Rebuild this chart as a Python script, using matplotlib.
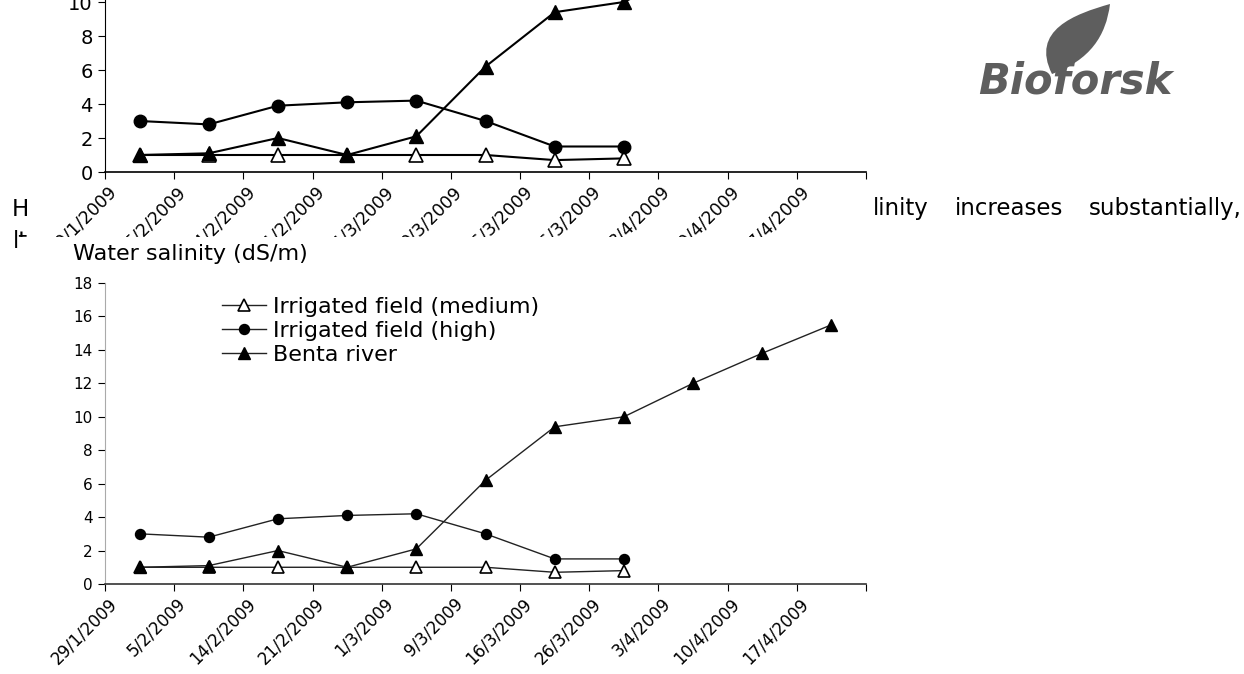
import numpy as np
import matplotlib
matplotlib.use('Agg')
import matplotlib.pyplot as plt
import matplotlib.transforms as mtransforms
from matplotlib.patches import Rectangle, PathPatch
from matplotlib.path import Path

dates = ['29/1/2009', '5/2/2009', '14/2/2009', '21/2/2009', '1/3/2009', '9/3/2009',
         '16/3/2009', '26/3/2009', '3/4/2009', '10/4/2009', '17/4/2009']
medium = [1.0, 1.0, 1.0, 1.0, 1.0, 1.0, 0.7, 0.8]
high = [3.0, 2.8, 3.9, 4.1, 4.2, 3.0, 1.5, 1.5]
benta = [1.0, 1.1, 2.0, 1.0, 2.1, 6.2, 9.4, 10.0, 12.0, 13.8, 15.5]
labels = ['Irrigated field (medium)', 'Irrigated field (high)', 'Benta river']

W, H = 1244, 674
fig = plt.figure(figsize=(12.44, 6.74), dpi=100)


def px_axes(left, right, y0, ytop):
    # y0 = pixel row of value 0, ytop = pixel row of ymax
    return fig.add_axes([left / W, (H - y0) / H, (right - left) / W, (y0 - ytop) / H])


def draw(ax, ms, lw, lc, tick_fs, date_fs, spine_col, ymax_tick):
    x_med = np.arange(len(medium)) + 0.5
    x_high = np.arange(len(high)) + 0.5
    x_ben = np.arange(len(benta)) + 0.5
    l1, = ax.plot(x_med, medium, color=lc, lw=lw, marker='^', ms=ms,
                  mfc='white', mec='black', mew=1.2, label=labels[0])
    l2, = ax.plot(x_high, high, color=lc, lw=lw, marker='o', ms=ms * 0.9,
                  mfc='black', mec='black', label=labels[1])
    l3, = ax.plot(x_ben, benta, color=lc, lw=lw, marker='^', ms=ms,
                  mfc='black', mec='black', label=labels[2])
    ax.set_xlim(0, 11)
    ax.set_ylim(0, 18)
    ax.set_yticks(range(0, ymax_tick + 1, 2))
    ax.set_xticks(range(12))
    ax.set_xticklabels(dates + [''], rotation=45, ha='right', va='center',
                       rotation_mode='anchor', fontsize=date_fs)
    ax.tick_params(axis='y', labelsize=tick_fs, length=5, direction='out', pad=4)
    ax.tick_params(axis='x', length=5, direction='out', pad=5)
    for s in ['top', 'right']:
        ax.spines[s].set_visible(False)
    ax.spines['bottom'].set_linewidth(1.2)
    ax.spines['left'].set_color(spine_col)
    offset = mtransforms.ScaledTranslation(9 / 100, -3 / 100, fig.dpi_scale_trans)
    for lbl in ax.xaxis.get_majorticklabels():
        lbl.set_transform(lbl.get_transform() + offset)
    return [l1, l2, l3]


# upper chart (cut by the page edge)
ax_top = px_axes(105, 866, 172, 172 - 18 * 17)
draw(ax_top, ms=10, lw=1.5, lc='black', tick_fs=14, date_fs=12.5,
     spine_col='black', ymax_tick=10)
ax_top.set_zorder(0)

# page text behind the charts
fig.text(12 / W, (H - 216) / H, 'H', fontsize=16.5, va='baseline', zorder=-1)
fig.text(13 / W, (H - 248) / H, 'lt', fontsize=16.5, va='baseline', zorder=-1)
fig.text(873 / W, (H - 215) / H, 'linity', fontsize=16.5, va='baseline')
fig.text(1009 / W, (H - 215) / H, 'increases', fontsize=16.5, va='baseline', ha='center')
fig.text(1242 / W, (H - 215) / H, 'substantially,', fontsize=16.5, va='baseline', ha='right')

# white sheet of the lower chart image
fig.add_artist(Rectangle((20 / W, 0), (W - 20) / W, (H - 237) / H,
                         transform=fig.transFigure, facecolor='white',
                         edgecolor='none', zorder=1))

# lower chart
ax_bot = px_axes(105, 866, 584, 283)
lines = draw(ax_bot, ms=8, lw=1.0, lc='#222222', tick_fs=11, date_fs=12,
             spine_col='#aaaaaa', ymax_tick=18)
ax_bot.set_zorder(2)
ax_bot.spines['bottom'].set_color('#333333')
fig.text(73 / W, (H - 254) / H, 'Water salinity (dS/m)', fontsize=16, va='center', zorder=3)
ax_bot.legend(handles=lines, loc='center left', bbox_to_anchor=(222 / W, (H - 331) / H),
              bbox_transform=fig.transFigure, frameon=False, fontsize=16,
              handlelength=2.0, handletextpad=0.3, labelspacing=0.18,
              borderpad=0, borderaxespad=0)

# Bioforsk logo
fig.text(978 / W, (H - 93) / H, 'Bioforsk', fontsize=30, fontweight='bold',
         style='italic', color='#5e5e5e', va='baseline')
leaf = [(1052, 74), (1030, 30), (1075, 14), (1110, 4), (1106, 36), (1090, 60), (1052, 74)]
codes = [Path.MOVETO] + [Path.CURVE4] * 6
leaf_path = Path([(x / W, (H - y) / H) for x, y in leaf], codes)
fig.add_artist(PathPatch(leaf_path, transform=fig.transFigure,
                         facecolor='#5e5e5e', edgecolor='none', zorder=3))

plt.savefig('out.png', dpi=100)
